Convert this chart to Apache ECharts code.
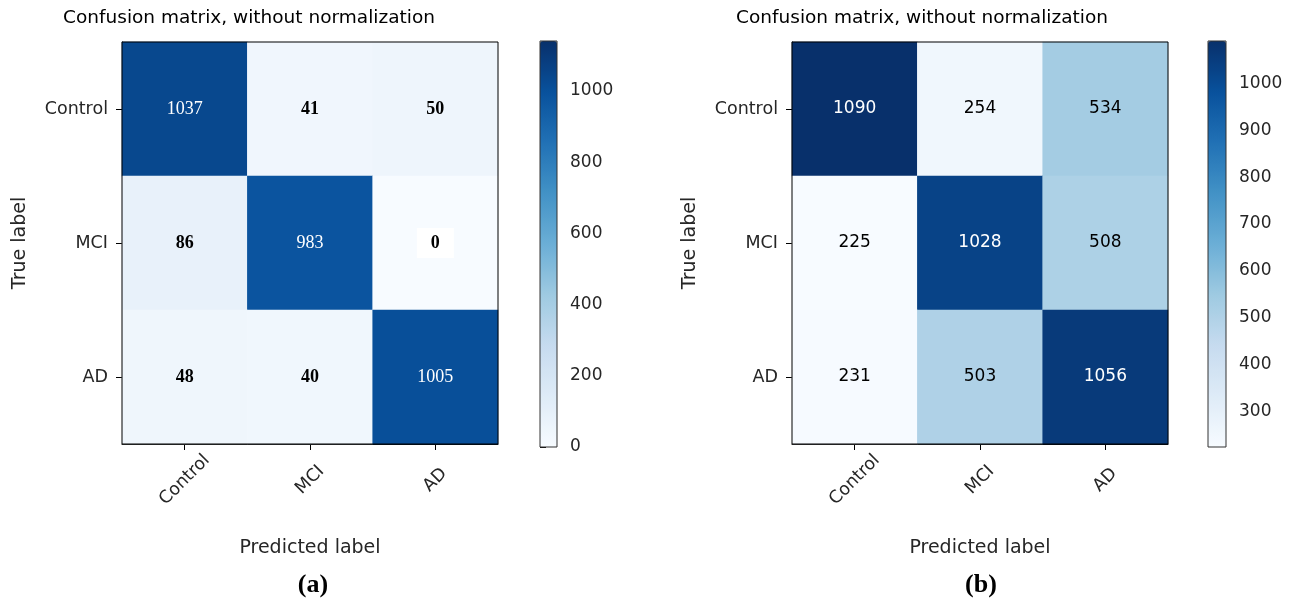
<!DOCTYPE html>
<html>
<head>
<meta charset="utf-8">
<script src="https://cdn.jsdelivr.net/npm/echarts@6/dist/echarts.min.js"></script>
<style>
  html, body { margin: 0; padding: 0; background: #fff; }
  #chart { width: 1300px; height: 606px; }
</style>
</head>
<body>
<div id="chart"></div>
<script>
// ---- data ----
const classes = ['Control', 'MCI', 'AD'];
// rows = true label, columns = predicted label
const matrixA = [
  [1037, 41, 50],
  [86, 983, 0],
  [48, 40, 1005]
];
const matrixB = [
  [1090, 254, 534],
  [225, 1028, 508],
  [231, 503, 1056]
];
const colorRangeA = [0, 1140];
const colorRangeB = [225, 1090];
const colorbarTicksA = [0, 200, 400, 600, 800, 1000];
const colorbarTicksB = [300, 400, 500, 600, 700, 800, 900, 1000];
const panelTitle = 'Confusion matrix, without normalization';
const xAxisName = 'Predicted label';
const yAxisName = 'True label';
const captions = ['(a)', '(b)'];

// ---- styling ----
const blues = ['#f7fbff', '#deebf7', '#c6dbef', '#9ecae1', '#6baed6', '#4292c6', '#2171b5', '#08519c', '#08306b'];
const SANS = 'DejaVu Sans';
const SERIF = 'Liberation Serif';

function cells(matrix, serifBold) {
  const thr = Math.max(...matrix.flat()) / 2;
  const out = [];
  matrix.forEach((row, r) => row.forEach((v, c) => {
    const dark = v > thr;
    const label = { color: dark ? '#ffffff' : '#000000' };
    if (serifBold) {
      label.fontWeight = dark ? 'normal' : 'bold';
      if (v === 0) { label.backgroundColor = '#ffffff'; label.padding = [6, 14, 6, 14]; }
    }
    out.push({ value: [c, r, v], label });
  }));
  return out;
}

function catX(gi) {
  return {
    gridIndex: gi, type: 'category', data: classes, position: 'bottom',
    axisLine: { show: true, lineStyle: { color: '#000', width: 1 } },
    axisTick: { show: true, alignWithLabel: true, length: 6, lineStyle: { color: '#000' } },
    axisLabel: { rotate: 45, align: 'center', verticalAlign: 'middle', fontSize: 17.5, fontFamily: SANS, color: '#262626', margin: 36 },
    splitLine: { show: false }, splitArea: { show: false },
    name: xAxisName, nameLocation: 'middle', nameGap: 95,
    nameTextStyle: { fontSize: 19, fontFamily: SANS, color: '#262626' }
  };
}
function catY(gi) {
  return {
    gridIndex: gi, type: 'category', data: classes, inverse: true,
    axisLine: { show: true, lineStyle: { color: '#000', width: 1 } },
    axisTick: { show: true, alignWithLabel: true, length: 6, lineStyle: { color: '#000' } },
    axisLabel: { fontSize: 17.5, fontFamily: SANS, color: '#262626', margin: 14 },
    splitLine: { show: false }, splitArea: { show: false },
    name: yAxisName, nameLocation: 'middle', nameGap: 92, nameRotate: 90,
    nameTextStyle: { fontSize: 19, fontFamily: SANS, color: '#262626' }
  };
}
function barY(gi, range, ticks) {
  return {
    gridIndex: gi, type: 'value', min: range[0], max: range[1], position: 'right',
    axisLine: { show: false },
    axisTick: { show: true, length: 6, customValues: ticks, lineStyle: { color: '#000' } },
    axisLabel: { fontSize: 17, fontFamily: SANS, color: '#262626', margin: 13, customValues: ticks, formatter: v => String(v) },
    splitLine: { show: false }
  };
}
function hiddenX(gi) { return { gridIndex: gi, type: 'value', show: false }; }

function heat(idx, matrix, serifBold) {
  return {
    type: 'heatmap', xAxisIndex: idx, yAxisIndex: idx, data: cells(matrix, serifBold),
    label: {
      show: true, formatter: p => String(p.value[2]),
      fontSize: serifBold ? 18 : 17, fontFamily: serifBold ? SERIF : SANS
    },
    emphasis: { disabled: true }
  };
}

function vmap(idx, range, left, width) {
  return {
    type: 'continuous', seriesIndex: idx, dimension: 2,
    min: range[0], max: range[1], calculable: false, hoverLink: false,
    left: left, top: 41, itemWidth: width, itemHeight: 406, padding: 0,
    inRange: { color: blues }, text: null, showLabel: false
  };
}

const titleStyle = { fontSize: 18.5, fontWeight: 'normal', fontFamily: SANS, color: '#000' };
const capStyle = { fontSize: 26, fontWeight: 'bold', fontFamily: SERIF, color: '#000' };

const option = {
  backgroundColor: '#ffffff',
  animation: false,
  title: [
    { text: panelTitle, left: 249, top: 9, textAlign: 'center', padding: 0, textStyle: titleStyle },
    { text: panelTitle, left: 922, top: 9, textAlign: 'center', padding: 0, textStyle: titleStyle },
    { text: captions[0], left: 313, top: 572, textAlign: 'center', padding: 0, textStyle: capStyle },
    { text: captions[1], left: 981, top: 572, textAlign: 'center', padding: 0, textStyle: capStyle }
  ],
  grid: [
    { left: 122, top: 42, width: 376, height: 402, show: true, borderColor: '#000', borderWidth: 1, backgroundColor: 'transparent', z: 5 },
    { left: 792, top: 42, width: 376, height: 402, show: true, borderColor: '#000', borderWidth: 1, backgroundColor: 'transparent', z: 5 },
    { left: 540, top: 41, width: 17, height: 406, show: true, borderColor: '#333', borderWidth: 1, backgroundColor: 'transparent', z: 10 },
    { left: 1208, top: 41, width: 18, height: 406, show: true, borderColor: '#333', borderWidth: 1, backgroundColor: 'transparent', z: 10 }
  ],
  xAxis: [catX(0), catX(1), hiddenX(2), hiddenX(3)],
  yAxis: [catY(0), catY(1), barY(2, colorRangeA, colorbarTicksA), barY(3, colorRangeB, colorbarTicksB)],
  visualMap: [vmap(0, colorRangeA, 540, 17), vmap(1, colorRangeB, 1208, 18)],
  series: [heat(0, matrixA, true), heat(1, matrixB, false)]
};

const chart = echarts.init(document.getElementById('chart'), null, { renderer: 'canvas' });
chart.setOption(option);
</script>
</body>
</html>
